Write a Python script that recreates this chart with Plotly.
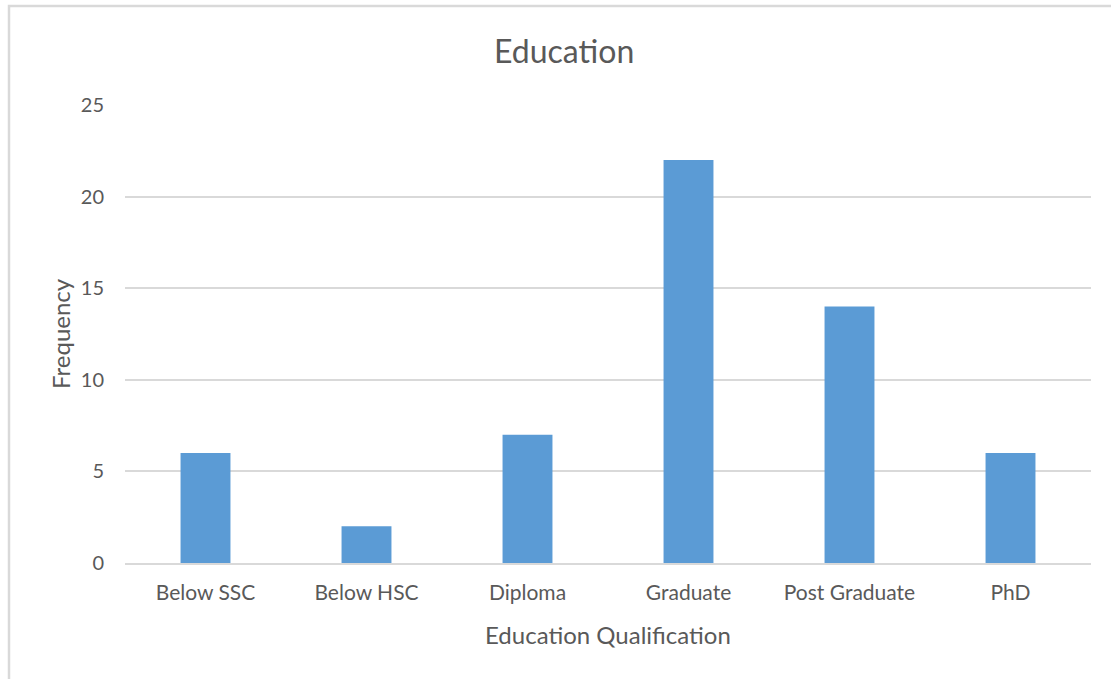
import plotly.graph_objects as go

# Survey respondents by education level
categories = ["Below SSC", "Below HSC", "Diploma", "Graduate", "Post Graduate", "PhD"]
frequency = [6, 2, 7, 22, 14, 6]
y_ticks = [0, 5, 10, 15, 20, 25]

W, H = 1111, 679
L, R, T, B = 125, 20, 105, 116
plot_w = W - L - R
plot_h = H - T - B

text_color = "#595959"
font_family = "Lato, 'Open Sans', Arial, sans-serif"

fig = go.Figure(
    go.Bar(
        x=categories,
        y=frequency,
        marker=dict(color="#5B9BD5", line=dict(width=0)),
        width=0.31,
    )
)

def px_x(p):
    return (p - L) / plot_w

def px_y(p):
    return (H - B - p) / plot_h

fig.update_layout(
    width=W,
    height=H,
    margin=dict(l=L, r=R, t=T, b=B),
    paper_bgcolor="white",
    plot_bgcolor="white",
    showlegend=False,
    font=dict(family=font_family, color=text_color, size=16),
    xaxis=dict(
        showgrid=False,
        showline=True,
        linecolor="#D9D9D9",
        linewidth=2,
        ticks="",
        tickfont=dict(size=21, color=text_color),
        ticklabelstandoff=10,
    ),
    yaxis=dict(
        range=[0, 25],
        tickvals=y_ticks,
        showgrid=True,
        gridcolor="#D9D9D9",
        gridwidth=2,
        zeroline=False,
        showline=False,
        ticks="",
        tickfont=dict(size=20, color=text_color),
        ticklabelstandoff=20,
    ),
    annotations=[
        dict(text="Education", xref="paper", yref="paper",
             x=px_x(564), y=px_y(50), showarrow=False,
             font=dict(size=32, color=text_color), xanchor="center", yanchor="middle"),
        dict(text="Education Qualification", xref="paper", yref="paper",
             x=px_x(608), y=px_y(634), showarrow=False,
             font=dict(size=24, color=text_color), xanchor="center", yanchor="middle"),
        dict(text="Frequency", xref="paper", yref="paper",
             x=px_x(60), y=px_y(334), showarrow=False, textangle=-90,
             font=dict(size=24, color=text_color), xanchor="center", yanchor="middle"),
    ],
    shapes=[
        dict(type="rect", xref="paper", yref="paper",
             x0=px_x(9), x1=px_x(1120), y0=px_y(690), y1=px_y(6),
             line=dict(color="#D9D9D9", width=2.5), fillcolor="rgba(0,0,0,0)", layer="below"),
    ],
)

fig.write_html("out.html")
